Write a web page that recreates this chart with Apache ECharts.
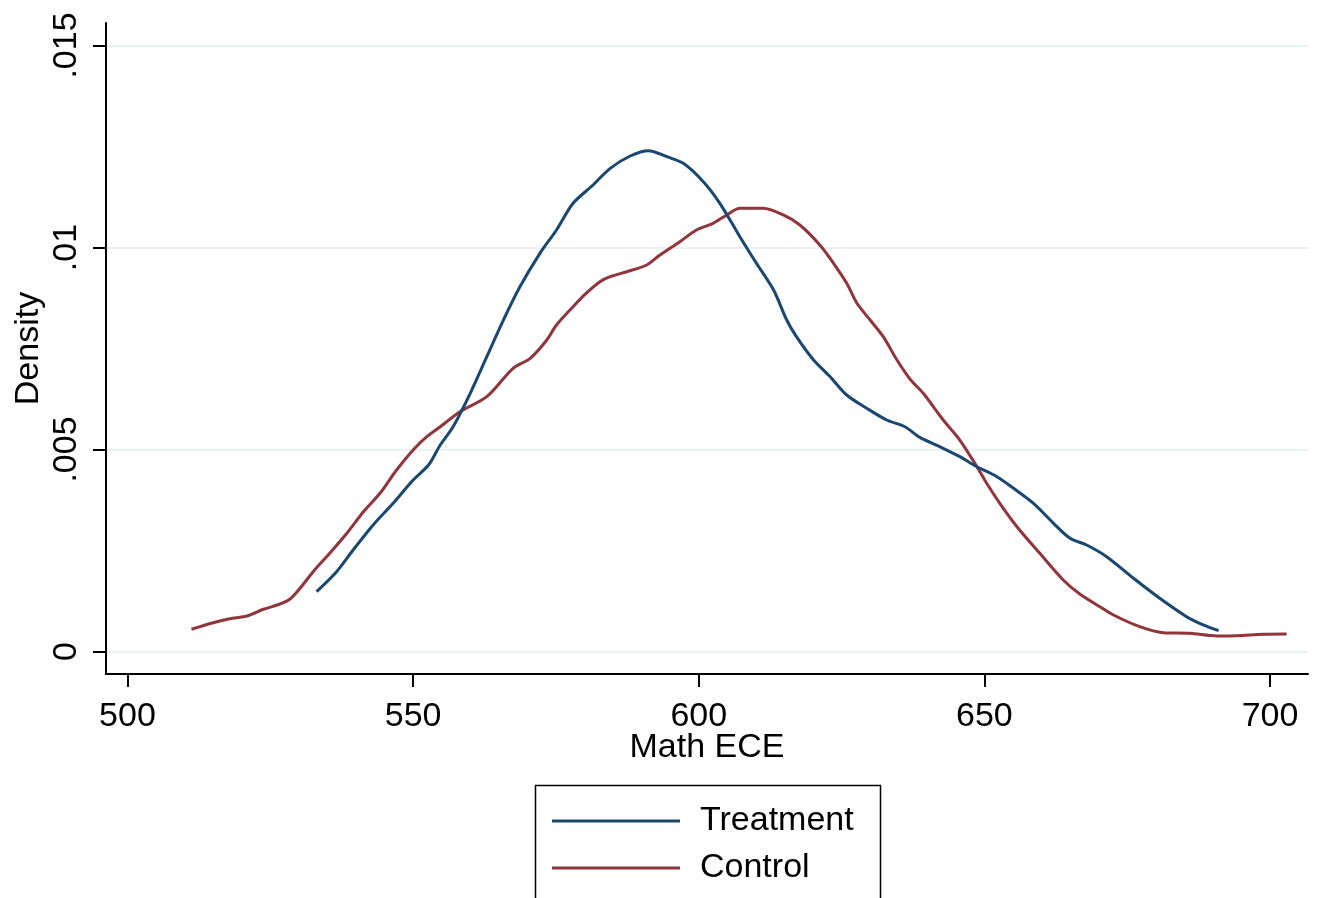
<!DOCTYPE html>
<html>
<head>
<meta charset="utf-8">
<title>Math ECE density</title>
<script src="https://cdn.jsdelivr.net/npm/echarts@6/dist/echarts.min.js"></script>
<style>
  html, body { margin: 0; padding: 0; background: #ffffff; }
  #chart { width: 1320px; height: 898px; }
</style>
</head>
<body>
<div id="chart"></div>
<script>
// Axis ticks
const xTicks = [500, 550, 600, 650, 700];
const yTicks = [0, 0.005, 0.01, 0.015];

// Kernel density estimate, Treatment group
const treatmentScores = [533.1, 536.6, 539.5, 543.0, 546.5, 550.0, 552.7, 554.7, 557.0, 560.0, 562.9, 565.8, 568.7, 572.2, 575.1, 578.0, 581.5, 584.5, 588.0, 591.2, 594.4, 597.3, 600.8, 603.7, 607.2, 610.1, 613.1, 615.4, 617.1, 620.1, 623.0, 625.9, 629.4, 632.9, 636.1, 638.7, 642.2, 645.7, 648.7, 652.2, 655.1, 658.6, 662.1, 665.0, 667.9, 671.4, 676.1, 680.7, 685.4, 688.3, 691.0];
const treatmentDensity = [0.00148, 0.001975, 0.002512, 0.003131, 0.003668, 0.004245, 0.004616, 0.00510, 0.005564, 0.006391, 0.007297, 0.008205, 0.00903, 0.009856, 0.010433, 0.011094, 0.011547, 0.01196, 0.012265, 0.012396, 0.012248, 0.012084, 0.011629, 0.011094, 0.010267, 0.009609, 0.008948, 0.008205, 0.007792, 0.007215, 0.006802, 0.006349, 0.00602, 0.00573, 0.005564, 0.0053, 0.005069, 0.004822, 0.004574, 0.004327, 0.00404, 0.003668, 0.003173, 0.002802, 0.002636, 0.002347, 0.001812, 0.001317, 0.000861, 0.000656, 0.000515];

// Kernel density estimate, Control group
const controlScores = [511.2, 515.0, 517.9, 520.9, 523.8, 526.7, 528.4, 530.2, 532.5, 535.4, 538.4, 541.3, 544.2, 547.1, 550.0, 552.4, 554.4, 558.2, 562.9, 567.5, 570.5, 573.4, 575.1, 578.0, 580.4, 582.7, 584.5, 587.4, 590.9, 593.2, 596.7, 599.6, 602.5, 604.9, 607.2, 611.3, 614.8, 617.7, 621.2, 623.6, 625.9, 627.7, 630.0, 632.3, 634.7, 637.0, 639.3, 642.8, 645.7, 648.7, 650.4, 652.7, 655.7, 659.7, 663.8, 666.7, 670.2, 672.6, 677.2, 681.3, 686.0, 690.7, 694.2, 698.8, 702.9];
const controlDensity = [0.00055, 0.000713, 0.000812, 0.000879, 0.001045, 0.001176, 0.001292, 0.001564, 0.001975, 0.002431, 0.002926, 0.00346, 0.003916, 0.004493, 0.004988, 0.005317, 0.005525, 0.005936, 0.006307, 0.00701, 0.007257, 0.007711, 0.008082, 0.008535, 0.008881, 0.009154, 0.009277, 0.009401, 0.009567, 0.009814, 0.010144, 0.010433, 0.010599, 0.010805, 0.01097, 0.01097, 0.010805, 0.010557, 0.010062, 0.009609, 0.009114, 0.008619, 0.008205, 0.007792, 0.007215, 0.00674, 0.006391, 0.00573, 0.005235, 0.004574, 0.004163, 0.003668, 0.003089, 0.002431, 0.00177, 0.001423, 0.001109, 0.000903, 0.000614, 0.000465, 0.00045, 0.000384, 0.000391, 0.000426, 0.000433];

const zip = (xs, ys) => xs.map((x, i) => [x, ys[i]]);

const FONT = 'Arial, "Liberation Sans", sans-serif';
const NAVY = '#1a476f';
const MAROON = '#90353b';
const GRID = '#eaf2f3';

const yLabel = v => (v === 0 ? '0' : String(v).replace(/^0/, ''));

const chart = echarts.init(document.getElementById('chart'), null, { renderer: 'canvas' });

chart.setOption({
  backgroundColor: '#ffffff',
  animation: false,
  textStyle: { fontFamily: FONT, color: '#000' },
  grid: { left: 106, right: 12, top: 23, bottom: 224, containLabel: false },
  xAxis: {
    type: 'value',
    min: 496.24,
    max: 706.65,
    name: 'Math ECE',
    nameLocation: 'middle',
    nameGap: 57,
    nameMoveOverlap: false,
    nameTextStyle: { fontFamily: FONT, fontSize: 34, color: '#000' },
    axisLine: { show: true, onZero: false, lineStyle: { color: '#000', width: 2 } },
    axisTick: { show: true, inside: false, length: 13, customValues: xTicks, lineStyle: { color: '#000', width: 2 } },
    axisLabel: { customValues: xTicks, margin: 26, fontFamily: FONT, fontSize: 34, color: '#000' },
    splitLine: { show: false }
  },
  yAxis: {
    type: 'value',
    min: -0.000557,
    max: 0.015557,
    name: 'Density',
    nameLocation: 'middle',
    nameGap: 60,
    nameMoveOverlap: false,
    nameRotate: 90,
    nameTextStyle: { fontFamily: FONT, fontSize: 34, color: '#000' },
    axisLine: { show: true, onZero: false, lineStyle: { color: '#000', width: 2 } },
    axisTick: { show: true, inside: false, length: 13, customValues: yTicks, lineStyle: { color: '#000', width: 2 } },
    axisLabel: { customValues: yTicks, rotate: 90, margin: 22, fontFamily: FONT, fontSize: 34, color: '#000', formatter: yLabel },
    splitLine: { show: true, lineStyle: { color: GRID, width: 2 } }
  },
  // Legend frame; its lower edge runs past the bottom of the canvas
  graphic: [{
    type: 'rect',
    left: 533,
    top: 783,
    shape: { width: 345, height: 140 },
    style: { fill: null, stroke: '#000', lineWidth: 1.5 },
    z: 10
  }],
  legend: {
    orient: 'vertical',
    left: 552,
    top: 803,
    padding: 0,
    itemWidth: 128,
    itemHeight: 3,
    itemGap: 11,
    icon: 'rect',
    textStyle: { fontFamily: FONT, fontSize: 34, color: '#000', lineHeight: 36, padding: [0, 0, 0, 15] },
    data: ['Treatment', 'Control']
  },
  series: [
    {
      name: 'Treatment',
      type: 'line',
      data: zip(treatmentScores, treatmentDensity),
      symbol: 'none',
      smooth: 0.3,
      lineStyle: { color: NAVY, width: 3 },
      itemStyle: { color: NAVY },
      z: 3
    },
    {
      name: 'Control',
      type: 'line',
      data: zip(controlScores, controlDensity),
      symbol: 'none',
      smooth: 0.3,
      lineStyle: { color: MAROON, width: 3 },
      itemStyle: { color: MAROON },
      z: 2
    }
  ]
});
</script>
</body>
</html>
